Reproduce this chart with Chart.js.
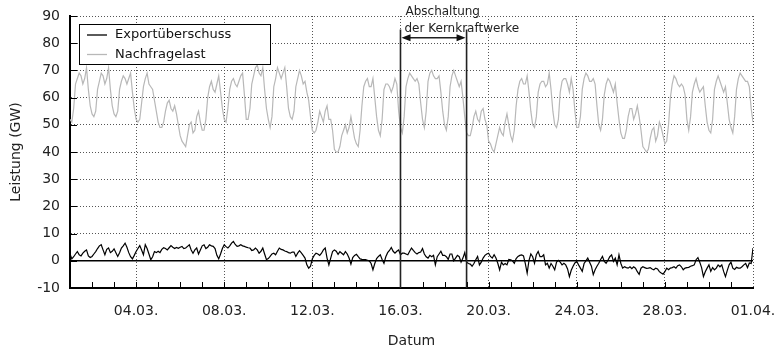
<!DOCTYPE html>
<html lang="de">
<head>
<meta charset="utf-8">
<title>Exportüberschuss und Nachfragelast März 2011</title>
<script src="https://cdn.jsdelivr.net/npm/chart.js@4.4.1/dist/chart.umd.min.js"></script>
<style>
    html, body { margin: 0; padding: 0; background: #fff; }
    #wrap { width: 779px; height: 350px; }
</style>
</head>
<body>
<div id="wrap"><canvas id="leistungChart" width="779" height="350"></canvas></div>
<script>
// Werte alle 2 Stunden, ab 01.03. 00:00 bis 01.04. 00:00 (eine Zeile pro Tag)
const stundenProPunkt = 2;

const nachfragelast = [
    52, 51, 56, 65, 67, 69, 68, 65, 67, 71, 63, 57,
    54, 53, 55, 63, 66, 69, 68, 65, 67, 71, 63, 57,
    54, 53, 55, 63, 66, 68, 67, 65, 67, 69, 62, 56,
    52, 51, 52, 58, 64, 67, 69, 65, 64, 63, 59, 55,
    51, 49, 49, 51, 55, 58, 59, 56, 55, 57, 54, 50,
    46, 44, 43, 42, 46, 50, 51, 47, 48, 53, 55, 51,
    48, 48, 52, 60, 64, 66, 63, 62, 65, 68, 62, 56,
    52, 51, 56, 63, 66, 67, 65, 64, 66, 68, 69, 61,
    52, 52, 56, 65, 68, 71, 72, 69, 68, 71, 63, 56,
    52, 49, 53, 64, 67, 71, 69, 67, 69, 71, 64, 56,
    53, 52, 55, 64, 67, 70, 68, 65, 66, 62, 59, 53,
    48, 47, 48, 51, 55, 53, 51, 55, 57, 52, 52, 48,
    41, 40, 40, 42, 46, 48, 50, 47, 49, 53, 49, 45,
    43, 42, 48, 57, 64, 66, 67, 64, 64, 67, 60, 53,
    48, 46, 52, 63, 65, 65, 64, 62, 64, 67, 65, 55,
    49, 47, 53, 64, 67, 69, 68, 67, 66, 67, 65, 58,
    52, 49, 55, 66, 69, 70, 68, 67, 67, 68, 62, 55,
    50, 48, 53, 64, 68, 70, 68, 66, 64, 66, 60, 53,
    47, 46, 46, 49, 53, 55, 52, 51, 55, 56, 52, 50,
    44, 43, 41, 40, 43, 46, 49, 47, 46, 51, 54, 50,
    46, 44, 48, 57, 63, 66, 67, 65, 65, 68, 62, 55,
    50, 49, 53, 62, 65, 66, 66, 64, 65, 69, 63, 55,
    50, 49, 52, 62, 66, 67, 67, 65, 62, 67, 63, 55,
    49, 49, 53, 63, 67, 69, 68, 66, 66, 67, 65, 57,
    50, 48, 52, 61, 65, 67, 66, 64, 62, 65, 58, 52,
    47, 45, 45, 48, 53, 56, 56, 52, 54, 57, 53, 48,
    42, 41, 40, 41, 45, 48, 49, 44, 46, 51, 49, 46,
    43, 44, 50, 60, 65, 68, 67, 65, 64, 65, 64, 61,
    52, 48, 53, 62, 65, 67, 64, 62, 63, 64, 57, 51,
    48, 47, 52, 63, 66, 68, 66, 64, 62, 64, 58, 52,
    49, 47, 53, 63, 67, 69, 68, 67, 66, 66, 64, 56,
    51
];

const exportueberschuss = [
    2.5, 0.7, 1.5, 2.5, 3.4, 2.2, 1.8, 2.8, 3.5, 4, 1.8, 1.2,
    1.6, 2.5, 3.4, 4.5, 5.5, 5.9, 4, 2.2, 4.2, 4.7, 3, 3.5,
    4.4, 3, 1.6, 3, 4.7, 5.5, 6.5, 5, 3, 1.5, 0.7, 2,
    3.4, 4.5, 5.6, 4, 2.2, 5.9, 4.5, 2.5, 0.4, 1.5, 3.4, 3,
    3.5, 3, 4.2, 4.8, 4.5, 4, 4.8, 5.6, 5, 4.5, 4.9, 4.6,
    5, 5.3, 4.5, 4.7, 5.3, 5.9, 4, 2.8, 4, 4.7, 2.5, 4,
    5.5, 5.9, 4.5, 5, 5.9, 5.5, 5.3, 4.5, 2, 0.7, 2.5, 4.5,
    5.9, 5.2, 4.7, 5.5, 6.5, 7.1, 6, 5.3, 5.5, 5.9, 5.5, 5.3,
    5, 4.8, 4.7, 3.8, 4, 4.7, 4, 2.8, 3.5, 4.7, 2.5, 0.4,
    0.8, 1.6, 2.5, 2.8, 2.2, 3.5, 4.7, 4.2, 4, 3.6, 3.4, 3,
    2.8, 3.2, 3.2, 1.6, 2.8, 3.7, 2.9, 2, 1, -1.5, -2.7, -2,
    0.8, 2, 2.8, 2.5, 2, 2.8, 4, 4.7, 1, -1.5, 1, 3.4,
    4, 3.5, 2.4, 3.4, 2.8, 2.2, 3.4, 2.5, 1, -1.2, 1.2, 2,
    2.4, 1.5, 0.7, 0.5, 0.4, 0.4, 0.2, 0, -1, -3.3, -1, 0.8,
    1.6, 2.2, 0.5, -0.9, 1.5, 3, 3.8, 4.9, 3.5, 2.8, 3.5, 4,
    2.2, 2.8, 2.8, 2.5, 2.2, 3.5, 4.7, 3.8, 3, 2.5, 3, 3.2,
    4.5, 2.5, 1.5, 1, 2, 1.5, 2, -1.5, 1.5, 2.5, 3.5, 2,
    2, 1.5, 0.5, 2.5, 2.5, 0, 1, 2, 1.5, -0.5, 1, 3,
    -0.5, -1, -1.2, -2, -1, 0.4, 1.6, -1.5, -0.5, 1, 2, 2.5,
    2.8, 1.6, 1, 2.2, 1, -0.9, -3.3, -0.5, -1.5, -1, -1.5, 0.5,
    0.4, 0, -0.9, 0.8, 1.6, 2, 2.2, 1.8, -1, -4.5, 0.2, 2.5,
    1.5, -0.9, 2.2, 3.4, 1.5, 1.5, 2.2, -1.5, -0.9, -2.7, -1, -2,
    -3.3, -0.5, 0.2, -0.5, -1.5, -0.9, -1.5, -3, -5.8, -3.5, -2, -0.8,
    -0.2, -1.5, -2.7, -3.9, -1, 0, 1, -0.5, -2, -5.1, -3.3, -2,
    -0.9, 0.5, 1.6, -0.2, -0.9, 0.2, 1.5, 2.2, -0.2, 1, -1.5, 2.2,
    -0.9, -2.7, -2.2, -2.5, -2.7, -2.2, -2.9, -2.2, -2.7, -4, -5, -2.7,
    -2.2, -2.5, -2.8, -2.7, -2.5, -3, -3.3, -2.7, -3, -4, -4.5, -4.9,
    -4, -2.7, -3.3, -2.7, -2.5, -2.2, -2.7, -1.8, -1.5, -2.2, -3.3, -2.7,
    -2.5, -2.4, -2, -1.8, -1.5, 0.4, 1.2, -0.5, -2.5, -5.8, -4, -2.7,
    -1.5, -3.9, -2.5, -3.3, -2.7, -1.5, -2.2, -1.5, -3.9, -5.8, -3.5, -1.5,
    -0.5, -2.7, -3.2, -2.4, -2.7, -2.7, -2.2, -1.5, -1, -2.5, -0.8, -1,
    4.7
];

// Achsenbeschriftung: Tage seit 01.03. 00:00
const tickTage = [3, 7, 11, 15, 19, 23, 27, 31];
const tickLabels = ["04.03.", "08.03.", "12.03.", "16.03.", "20.03.", "24.03.", "28.03.", "01.04."];

// Abschaltung der Kernkraftwerke: 16.03. bis 19.03.
const abschaltungVon = 15;
const abschaltungBis = 18;

const FONT = "'DejaVu Sans', Verdana, sans-serif";

function toPoints(values) {
    return values.map((v, i) => ({ x: i * stundenProPunkt / 24, y: v }));
}

function strokeLine(ctx, x1, y1, x2, y2) {
    ctx.beginPath();
    ctx.moveTo(x1, y1);
    ctx.lineTo(x2, y2);
    ctx.stroke();
}

function arrowHead(ctx, x, y, dir) {
    ctx.beginPath();
    ctx.moveTo(x, y);
    ctx.lineTo(x - dir * 9, y - 3.5);
    ctx.lineTo(x - dir * 9, y + 3.5);
    ctx.closePath();
    ctx.fill();
}

const decorations = {
    id: "decorations",
    afterDatasetsDraw(chart) {
        const { ctx, chartArea: a, scales: { x, y } } = chart;
        ctx.save();

        // Nulllinie
        ctx.strokeStyle = "#000";
        ctx.lineWidth = 1.5;
        const y0 = y.getPixelForValue(0);
        strokeLine(ctx, a.left, y0, a.right, y0);

        // kurze Striche nach innen: jeder Tag unten, jeder Wert links
        ctx.lineWidth = 1;
        for (let d = 1; d < 31; d++) {
            const px = Math.round(x.getPixelForValue(d)) + 0.5;
            strokeLine(ctx, px, a.bottom, px, a.bottom - 6);
        }
        y.ticks.forEach(t => {
            const py = Math.round(y.getPixelForValue(t.value)) + 0.5;
            strokeLine(ctx, a.left, py, a.left + 7, py);
        });

        // Zeitraum der Abschaltung
        const xa = x.getPixelForValue(abschaltungVon);
        const xb = x.getPixelForValue(abschaltungBis);
        const yTop = y.getPixelForValue(85);
        const yArrow = y.getPixelForValue(82);
        ctx.strokeStyle = "#222";
        ctx.fillStyle = "#111";
        ctx.lineWidth = 1.6;
        strokeLine(ctx, xa, yTop, xa, a.bottom);
        strokeLine(ctx, xb, yTop, xb, a.bottom);
        ctx.lineWidth = 1.3;
        strokeLine(ctx, xa + 4, yArrow, xb - 4, yArrow);
        arrowHead(ctx, xa + 1, yArrow, -1);
        arrowHead(ctx, xb - 1, yArrow, 1);

        ctx.font = "12px " + FONT;
        ctx.fillStyle = "#222";
        ctx.textAlign = "left";
        ctx.textBaseline = "middle";
        ctx.fillText("Abschaltung", xa + 5, 12);
        ctx.fillText("der Kernkraftwerke", xa + 4, 29);

        ctx.restore();
    },
    afterDraw(chart) {
        const { ctx } = chart;
        ctx.save();
        ctx.fillStyle = "#fff";
        ctx.strokeStyle = "#000";
        ctx.lineWidth = 1;
        ctx.fillRect(79.5, 24.5, 191, 40);
        ctx.strokeRect(79.5, 24.5, 191, 40);

        ctx.font = "13px " + FONT;
        ctx.textAlign = "left";
        ctx.textBaseline = "middle";
        chart.data.datasets.forEach((ds, i) => {
            const ly = 35 + i * 19.5;
            ctx.strokeStyle = ds.borderColor;
            ctx.lineWidth = 1.3;
            strokeLine(ctx, 87, ly, 107, ly);
            ctx.fillStyle = "#111";
            ctx.fillText(ds.label, 115, ly);
        });
        ctx.restore();
    }
};

new Chart(document.getElementById("leistungChart"), {
    type: "line",
    data: {
        datasets: [
            {
                label: "Exportüberschuss",
                data: toPoints(exportueberschuss),
                borderColor: "#000",
                borderWidth: 1.2,
                pointRadius: 0,
                tension: 0,
                fill: false
            },
            {
                label: "Nachfragelast",
                data: toPoints(nachfragelast),
                borderColor: "#b8b8b8",
                borderWidth: 1.2,
                pointRadius: 0,
                tension: 0,
                fill: false
            }
        ]
    },
    options: {
        responsive: false,
        animation: false,
        devicePixelRatio: 1,
        layout: {
            padding: { left: 0, top: 16, right: 26, bottom: 0 }
        },
        plugins: {
            legend: { display: false },
            tooltip: { enabled: false }
        },
        scales: {
            x: {
                type: "linear",
                min: 0,
                max: 31,
                afterBuildTicks: scale => {
                    scale.ticks = tickTage.map(v => ({ value: v }));
                },
                afterFit: scale => {
                    scale.height = 62;
                    scale.paddingLeft = 0;
                    scale.paddingRight = 0;
                },
                grid: {
                    color: "#555",
                    lineWidth: 1,
                    drawTicks: false
                },
                border: { display: true, color: "#000", width: 2, dash: [1, 2] },
                ticks: {
                    padding: 15,
                    color: "#222",
                    font: { family: FONT, size: 14 },
                    maxRotation: 0,
                    callback: value => tickLabels[tickTage.indexOf(value)]
                },
                title: {
                    display: true,
                    text: "Datum",
                    color: "#222",
                    font: { family: FONT, size: 14 },
                    padding: { top: 0, bottom: 0 }
                }
            },
            y: {
                min: -10,
                max: 90,
                afterFit: scale => {
                    scale.width = 70;
                    scale.paddingTop = 0;
                    scale.paddingBottom = 0;
                },
                grid: {
                    color: "#555",
                    lineWidth: 1,
                    drawTicks: false
                },
                border: { display: true, color: "#000", width: 2, dash: [1, 2] },
                ticks: {
                    stepSize: 10,
                    padding: 10,
                    color: "#222",
                    font: { family: FONT, size: 14 }
                },
                title: {
                    display: true,
                    text: "Leistung (GW)",
                    color: "#222",
                    font: { family: FONT, size: 14 },
                    padding: { top: 8, bottom: 0 }
                }
            }
        }
    },
    plugins: [decorations]
});
</script>
</body>
</html>
